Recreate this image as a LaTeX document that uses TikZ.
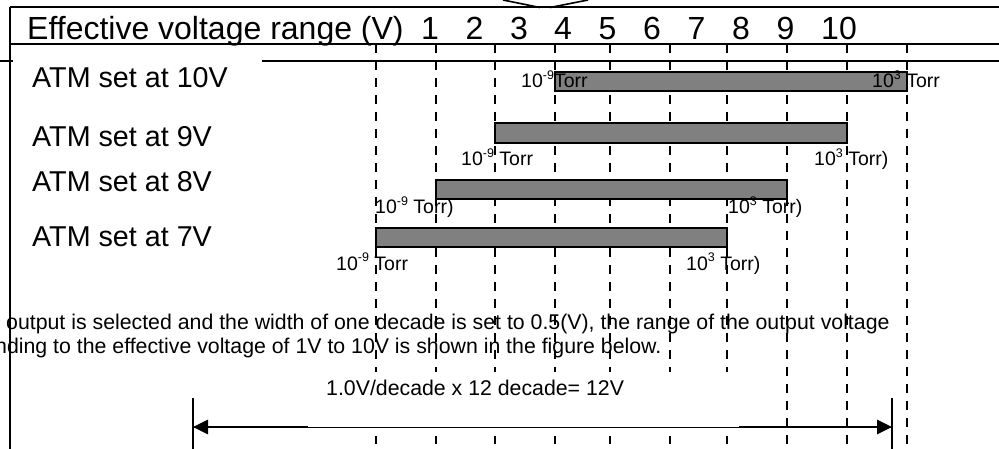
\documentclass[tikz,border=0pt]{standalone}
\usepackage{fontspec}
\setmainfont{Liberation Sans}
\usetikzlibrary{arrows.meta}
\definecolor{barGray}{RGB}{128,128,128}
\newcommand\supx[1]{\raisebox{0.42em}{\fontsize{12.5}{12.5}\selectfont #1}}
\begin{document}
\begin{tikzpicture}[x=1pt,y=-1pt,line join=miter,
  frame/.style={line width=1.6pt},
  gridline/.style={line width=1.8pt,dash pattern=on 9pt off 8pt},
  bar/.style={draw,line width=1.8pt,fill=barGray},
  big/.style={font=\fontsize{32}{38}\selectfont,inner sep=0pt,anchor=base west},
  num/.style={font=\fontsize{32}{38}\selectfont,inner sep=0pt,anchor=base},
  atm/.style={font=\fontsize{28.7}{34}\selectfont,inner sep=0pt,anchor=base west},
  lbl/.style={font=\fontsize{19.5}{23}\selectfont,inner sep=0pt,anchor=base west},
  para/.style={font=\fontsize{21.3}{24}\selectfont,inner sep=0pt,anchor=base west},
  thick arrow/.style={line width=2.6pt},
  thin arrow/.style={line width=1pt}]
\useasboundingbox (0,0) rectangle (999,449);
\clip (0,0) rectangle (999,449);
\fill[white] (0,0) rectangle (999,449);

% frame lines
\draw[frame] (503,0) -- (540,7.5);
\draw[frame] (550,7.5) -- (588,0);
\draw[frame] (10,7) -- (999,7);
\draw[frame] (10,7) -- (10,449);
\draw[frame] (10,44) -- (999,44);
\draw[frame] (0,61) -- (13,61);
\draw[frame] (262,61) -- (999,61);

% dashed grid
\foreach \gx in {376,436,495,555,610,670,727,787,847,907}
  \draw[gridline] (\gx,44) -- (\gx,449);

% white box behind the width label
\fill[white] (308,372) rectangle (739,436);

% header
\node[big] (hdr) at (27,40) {Effective voltage range (V)};
\node[num] (n1) at (430,40) {1};
\node[num] (n2) at (474.5,40) {2};
\node[num] (n3) at (519,40) {3};
\node[num] (n4) at (563,40) {4};
\node[num] (n5) at (607.6,40) {5};
\node[num] (n6) at (652,40) {6};
\node[num] (n7) at (696.5,40) {7};
\node[num] (n8) at (741,40) {8};
\node[num] (n9) at (785.5,40) {9};
\node[num] (n10) at (839,40) {10};

% rows
\node[atm] (a10) at (32,88) {ATM set at 10V};
\node[atm] (a9) at (32,147) {ATM set at 9V};
\node[atm] (a8) at (32,192) {ATM set at 8V};
\node[atm] (a7) at (32,247) {ATM set at 7V};

% bars
\draw[bar] (555,72) rectangle (907,91);
\draw[bar] (495,123) rectangle (847,143);
\draw[bar] (436,180) rectangle (787,199);
\draw[bar] (376,228) rectangle (727,247);

% bar labels
\node[lbl] (l10a) at (521,88) {10\supx{-9}Torr};
\node[lbl] (l10b) at (872,88) {10\supx{3} Torr};
\node[lbl] (l9a) at (461,166) {10\supx{-9} Torr};
\node[lbl] (l9b) at (814,166) {10\supx{3} Torr)};
\node[lbl] (l8a) at (375,214) {10\supx{-9} Torr)};
\node[lbl] (l8b) at (728,214) {10\supx{3} Torr)};
\node[lbl] (l7a) at (336,270) {10\supx{-9} Torr};
\node[lbl] (l7b) at (686,270) {10\supx{3} Torr)};

% paragraph
\node[para] (p1) at (6,329) {output is selected and the width of one decade is set to 0.5(V), the range of the output voltage};
\node[para] (p2) at (-5,353) {nding to the effective voltage of 1V to 10V is shown in the figure below.};
\node[para] (w) at (326,395) {1.0V/decade x 12 decade= 12V};

% dimension arrow
\coordinate (arL) at (193,427);
\coordinate (arR) at (892,427);
\coordinate (tkL) at (308,427);
\coordinate (tkR) at (739,427);
\coordinate (barLt) at (193,398);
\coordinate (barLb) at (193,449);
\coordinate (barRt) at (892,398);
\coordinate (barRb) at (892,449);
\draw[frame] (barLt) -- (barLb);
\draw[frame] (barRt) -- (barRb);
\draw[thin arrow] (arL) -- (arR);
\draw[thick arrow,{Triangle[length=15pt,width=14pt]}-] (arL) -- (tkL);
\draw[thick arrow,-{Triangle[length=15pt,width=14pt]}] (tkR) -- (arR);
\end{tikzpicture}
\end{document}
